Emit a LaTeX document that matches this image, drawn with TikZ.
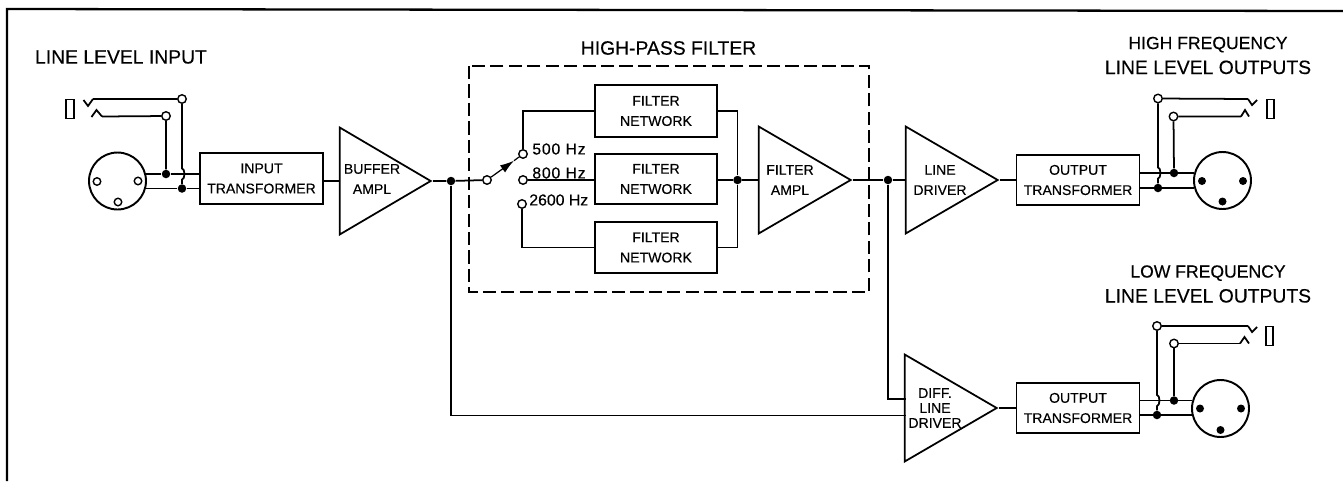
\documentclass[tikz,border=0pt]{standalone}
\usepackage{fontspec}
\setmainfont{Liberation Sans}[FakeBold=0.3]
\usetikzlibrary{shapes.geometric,arrows.meta}
\tikzset{
  wire/.style={line width=1pt},
  block/.style={draw,line width=1.1pt,minimum width=2.46cm,minimum height=1cm,inner sep=0pt,align=center,font=\fontsize{8}{11.5}\selectfont},
  amplbox/.style={draw,line width=1pt,isosceles triangle,isosceles triangle stretches,shape border rotate=0,minimum width=2.14cm,minimum height=1.84cm,inner sep=0pt,anchor=apex},
  lbl/.style={inner sep=0pt,align=center,font=\fontsize{8}{11.5}\selectfont},
  title/.style={inner sep=0pt,align=center,font=\fontsize{11}{14.2}\selectfont},
  freq/.style={inner sep=0pt,anchor=west,font=\fontsize{9}{10}\selectfont\addfontfeature{LetterSpace=5}},
  dotb/.style={circle,fill,inner sep=0pt,minimum size=0.17cm},
  open/.style={circle,draw,fill=white,line width=0.8pt,inner sep=0pt,minimum size=0.17cm},
  pino/.style={circle,draw,line width=0.8pt,inner sep=0pt,minimum size=0.15cm},
  pinf/.style={circle,fill,inner sep=0pt,minimum size=0.16cm},
  xlr/.style={circle,draw,line width=1.1pt,inner sep=0pt,minimum size=1.14cm},
  sleeve/.style={draw,line width=0.9pt,inner sep=0pt,minimum width=0.15cm,minimum height=0.38cm},
}
\begin{document}
\begin{tikzpicture}[x=0.02cm,y=-0.02cm]
  \useasboundingbox (0,0) rectangle (1343,481);
  % outer frame
  \draw[line width=1.3pt] (7,481) -- (7,9) -- (1343,11);

  % titles
  \node[title] (tinput) at (121,57) {LINE LEVEL INPUT};
  \node[title] (thpf) at (668.5,48) {HIGH-PASS FILTER};
  \node[title] (thigh) at (1208,55.5) {{\fontsize{10}{14.2}\selectfont HIGH FREQUENCY}\\LINE LEVEL OUTPUTS};
  \node[title] (tlow) at (1208,284) {{\fontsize{10}{14.2}\selectfont LOW FREQUENCY}\\LINE LEVEL OUTPUTS};

  % high-pass filter frame
  \draw[line width=1pt,dash pattern=on 7.5pt off 3pt] (469,66) rectangle (869,292);

  % blocks
  \node[block,minimum height=1.02cm] (intrans) at (261.5,178.5) {INPUT\\TRANSFORMER};
  \node[block,minimum width=2.44cm,minimum height=1.04cm] (filt1) at (656,111) {FILTER\\NETWORK};
  \node[block,minimum width=2.44cm] (filt2) at (656,179) {FILTER\\NETWORK};
  \node[block,minimum width=2.44cm,minimum height=1.02cm] (filt3) at (656,247.5) {FILTER\\NETWORK};
  \node[block] (outhigh) at (1078,180) {OUTPUT\\TRANSFORMER};
  \node[block] (outlow) at (1078,408) {OUTPUT\\TRANSFORMER};

  % amplifiers
  \node[amplbox,minimum height=1.82cm] (bufamp) at (433,181) {};
  \node[lbl] (lbuf) at (372,179) {BUFFER\\AMPL};
  \node[amplbox] (filtamp) at (853,180) {};
  \node[lbl] (lfilt) at (790,180) {FILTER\\AMPL};
  \node[amplbox] (linedrv) at (1000,180) {};
  \node[lbl] (lline) at (940,180) {LINE\\DRIVER};
  \node[amplbox] (diffdrv) at (999,408) {};
  \node[lbl,font=\fontsize{8}{8.5}\selectfont] (ldiff) at (935,408) {DIFF.\\LINE\\DRIVER};

  % input connector
  \node[xlr] (xlrin) at (117.5,181) {};
  \node[pino] (pa) at (97,181.5) {};
  \node[pino] (pb) at (138,181) {};
  \node[pino] (pc) at (118,202) {};
  \node[sleeve] (slin) at (70,109) {};
  \coordinate (ina) at (145,174);
  \coordinate (inb) at (145,188.5);
  \node[dotb] (da) at (166,174) {};
  \node[dotb] (db) at (182,188.5) {};
  \node[open] (oa) at (166,116) {};
  \node[open] (ob) at (182,99) {};
  \coordinate (tipa) at (102,116.5);
  \coordinate (tipb) at (93,99);
  \draw[wire] (ina) -- (da) -- (da -| intrans.west);
  \draw[wire] (inb) -- (db) -- (db -| intrans.west);
  \draw[wire] (tipa) -- (oa) -- (da);
  \draw[wire] (tipb) -- (ob) -- (182,168.5) arc (-90:90:2.5 and 5.5) -- (db);
  \draw[wire] (tipb) -- (88,106) -- (83.5,100);
  \draw[wire] (tipa) -- (96.5,110) -- (91.5,117);

  % buffer to filter section
  \draw[wire] (intrans.east |- bufamp.lower side) -- (bufamp.lower side);
  \node[dotb] (dbuf) at (451,181) {};
  \node[open] (swp) at (487,180) {};
  \node[open] (sw1) at (523,154) {};
  \node[open] (sw2) at (523,180) {};
  \node[open] (sw3) at (522,204) {};
  \coordinate (swtip) at (514,160.7);
  \draw[wire] (bufamp.apex) -- (dbuf) -- (swp);
  \draw[line width=0.7pt,-{Latex[length=8pt,width=5pt]}] (swp) -- (swtip);
  \draw[line width=0.7pt] (swtip) -- (sw1);
  \draw[wire] (sw1) |- (filt1.west);
  \draw[wire] (sw2) -- (sw2 -| filt2.west);
  \draw[wire] (sw3) |- (filt3.west);
  \node[freq] (f1) at (532,149) {500 Hz};
  \node[freq] (f2) at (532,173) {800 Hz};
  \node[freq,font=\fontsize{9}{10}\selectfont] (f3) at (529,200) {2600 Hz};

  % filter outputs
  \node[dotb] (dsum) at (737.5,180) {};
  \draw[wire] (filt1.east) -| (dsum);
  \draw[wire] (filt3.east) -| (dsum);
  \draw[wire] (filt2.east |- dsum) -- (dsum) -- (filtamp.lower side);

  % line drivers
  \node[dotb] (dfilt) at (888,180) {};
  \coordinate (diffa) at (906,399);
  \coordinate (diffb) at (906,415.5);
  \draw[wire] (filtamp.apex) -- (dfilt) -- (linedrv.lower side);
  \draw[wire] (dfilt) |- (diffa);
  \draw[wire] (dbuf) |- (diffb);
  \draw[wire] (linedrv.apex) -- (linedrv.apex -| outhigh.west);
  \draw[wire] (diffdrv.apex) -- (diffdrv.apex -| outlow.west);

  % high frequency output connector
  \node[xlr] (xlrhigh) at (1222.5,180.5) {};
  \node[pinf] (pd) at (1202,181) {};
  \node[pinf] (pe) at (1243,181) {};
  \node[pinf] (pf) at (1222.5,201.5) {};
  \node[sleeve] (slhigh) at (1270.5,109) {};
  \coordinate (outa) at (1194,173);
  \coordinate (outb) at (1194,188);
  \node[dotb] (dc) at (1174,173) {};
  \node[dotb] (dd) at (1158,188) {};
  \node[open] (oc) at (1173.5,116.5) {};
  \node[open] (od) at (1158,98.5) {};
  \coordinate (tipc) at (1241,116.5);
  \coordinate (tipd) at (1248,99);
  \draw[wire] (outhigh.east |- dc) -- (outa);
  \draw[wire] (outhigh.east |- dd) -- (outb);
  \draw[wire] (tipc) -- (oc) -- (dc);
  \draw[wire] (tipd) -- (od) -- (1158,167.5) arc (-90:90:2.5 and 5.5) -- (dd);
  \draw[wire] (tipd) -- (1252,105) -- (1257,100);
  \draw[wire] (tipc) -- (1245,110) -- (1249,116.5);

  % low frequency output connector
  \node[xlr] (xlrlow) at (1220.5,408.5) {};
  \node[pinf] (pg) at (1200,408.5) {};
  \node[pinf] (ph) at (1241,408.5) {};
  \node[pinf] (pi) at (1220.5,430) {};
  \node[sleeve] (sllow) at (1269.5,336) {};
  \coordinate (outc) at (1192,400.5);
  \coordinate (outd) at (1192,415);
  \node[dotb] (de) at (1174,400.5) {};
  \node[dotb] (df) at (1157,415) {};
  \node[open] (oe) at (1174,343.5) {};
  \node[open] (of) at (1157,326) {};
  \coordinate (tipe) at (1240,343.5);
  \coordinate (tipf) at (1248,326);
  \draw[wire] (outlow.east |- de) -- (outc);
  \draw[wire] (outlow.east |- df) -- (outd);
  \draw[wire] (tipe) -- (oe) -- (de);
  \draw[wire] (tipf) -- (of) -- (1157,395) arc (-90:90:2.5 and 5.5) -- (df);
  \draw[wire] (tipf) -- (1252,332) -- (1257,327);
  \draw[wire] (tipe) -- (1244.5,337) -- (1249,343.5);
\end{tikzpicture}
\end{document}
